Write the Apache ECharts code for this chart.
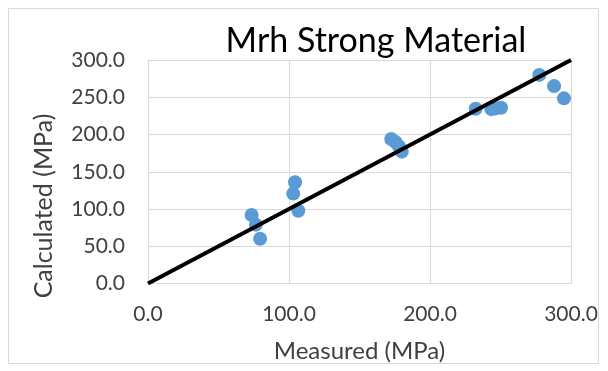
<!DOCTYPE html>
<html><head><meta charset="utf-8">
<script src="https://cdn.jsdelivr.net/npm/echarts@6/dist/echarts.min.js"></script>
<style>html,body{margin:0;padding:0;background:#fff}#c{width:608px;height:371px}</style>
</head><body><div id="c"></div>
<script>
const measured = [73.5, 76.5, 79.5, 103, 104.3, 106.6, 172.5, 175.5, 178, 180, 232.4, 243.5, 246.5, 250.4, 277.5, 288, 295];
const calculated = [92, 79, 60, 120.7, 136, 97.7, 194, 190, 184, 177, 234.5, 234, 235, 236, 280, 265, 248.5];
const lineX = [0, 300];
const lineY = [0, 300];
const titleText = 'Mrh Strong Material';
const xName = 'Measured (MPa)';
const yName = 'Calculated (MPa)';

const chart = echarts.init(document.getElementById('c'));
const font = 'Lato, "Open Sans", sans-serif';
chart.setOption({
  animation: false,
  backgroundColor: '#fff',
  graphic: [
    {type:'rect', shape:{x:8.5,y:8.5,width:590,height:355}, style:{fill:'none', stroke:'#d9d9d9', lineWidth:1}, silent:true},
    {type:'text', x:44, y:206, rotation:Math.PI/2, style:{text:yName, fontFamily:font, fontSize:25, fill:'#404040', textAlign:'center', textVerticalAlign:'middle'}, silent:true}
  ],
  title: {text:titleText, left:371, top:19, textAlign:'center',
    textStyle:{fontFamily:font, fontSize:34, fontWeight:'normal', color:'#000'}},
  grid: {left:148, top:60, right:37, bottom:87.5},
  xAxis: {type:'value', min:0, max:300, interval:100,
    name:xName, nameLocation:'middle', nameGap:56,
    nameTextStyle:{fontFamily:font, fontSize:24, color:'#404040'},
    axisLine:{show:true, lineStyle:{color:'#d9d9d9'}}, axisTick:{show:false},
    axisLabel:{fontFamily:font, fontSize:21, color:'#404040', margin:20, formatter:v=>v.toFixed(1)},
    splitLine:{show:true, lineStyle:{color:'#d9d9d9'}}},
  yAxis: {type:'value', min:0, max:300, interval:50,
    axisLine:{show:true, lineStyle:{color:'#d9d9d9'}}, axisTick:{show:false},
    axisLabel:{fontFamily:font, fontSize:21, color:'#404040', margin:23, formatter:v=>v.toFixed(1)},
    splitLine:{show:true, lineStyle:{color:'#d9d9d9'}}},
  series: [
    {type:'line', data: lineX.map((x,i)=>[x, lineY[i]]), showSymbol:false, symbol:'none',
     lineStyle:{color:'#000', width:4}, z:3},
    {type:'scatter', data: measured.map((x,i)=>[x, calculated[i]]), symbolSize:14,
     itemStyle:{color:'#5b9bd5', opacity:1}, z:2}
  ]
});
</script></body></html>
